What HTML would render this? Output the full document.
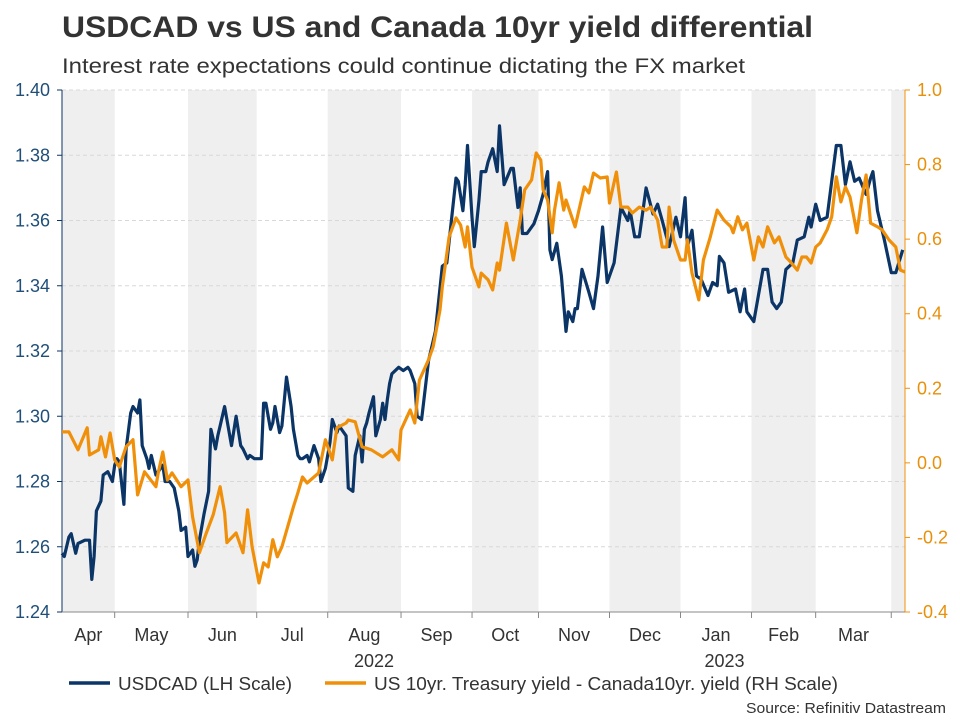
<!DOCTYPE html>
<html><head><meta charset="utf-8"><style>
body{margin:0;background:#fff;width:960px;height:720px;overflow:hidden;font-family:"Liberation Sans",Arial,sans-serif}
svg{display:block}
</style></head><body>
<svg id="chart" width="960" height="720" viewBox="0 0 960 720" xmlns="http://www.w3.org/2000/svg" font-family="Liberation Sans, Arial, sans-serif">
<text x="62" y="37" font-size="30" font-weight="bold" fill="#333" textLength="751" lengthAdjust="spacingAndGlyphs">USDCAD vs US and Canada 10yr yield differential</text>
<text x="62" y="73" font-size="21.5" fill="#333" textLength="683" lengthAdjust="spacingAndGlyphs">Interest rate expectations could continue dictating the FX market</text>
<g id="bands"></g><g id="grid"></g><g id="axes"></g><g id="lines"></g>
<g>
<line x1="69" y1="683" x2="110" y2="683" stroke="#0b3566" stroke-width="3.5"/>
<text x="118" y="690" font-size="18.5" fill="#333" textLength="174" lengthAdjust="spacingAndGlyphs">USDCAD (LH Scale)</text>
<line x1="325" y1="683" x2="366" y2="683" stroke="#f0900a" stroke-width="3.5"/>
<text x="374" y="690" font-size="18.5" fill="#333" textLength="464" lengthAdjust="spacingAndGlyphs">US 10yr. Treasury yield - Canada10yr. yield (RH Scale)</text>
</g>
<text x="946" y="713" font-size="15" fill="#333" text-anchor="end" textLength="200" lengthAdjust="spacingAndGlyphs">Source: Refinitiv Datastream</text>
</svg>
<script>
const usdDays=[0,1,3,4,6,7,10,12,13,14,15,17,18,20,22,23,24,25,27,28,30,31,33,34,35,37,38,39,41,43,44,45,47,49,51,52,54,55,57,58,59,60,62,64,65,67,68,69,71,72,74,76,78,79,81,82,84,86,87,88,89,91,92,93,95,96,98,100,101,103,104,105,107,108,110,112,113,115,117,118,120,121,124,125,127,128,130,131,132,133,134,136,137,139,140,141,142,143,144,147,149,151,152,154,155,157,158,160,162,163,166,168,172,173,175,176,177,179,180,182,183,185,186,188,190,191,193,196,197,199,200,201,203,206,208,210,212,213,214,216,218,220,221,223,224,225,227,230,232,234,236,238,241,244,247,248,250,252,255,258,260,262,265,268,270,272,273,275,277,279,282,284,286,287,289,291,294,296,298,299,302,304,306,308,310,312,314,316,319,321,324,326,327,329,331,334,336,338,340,342,344,346,348,351,353,354,356,359,362,364,367];
const usdValues=[1.258,1.257,1.263,1.264,1.258,1.261,1.262,1.262,1.250,1.257,1.271,1.274,1.282,1.283,1.280,1.285,1.287,1.286,1.273,1.290,1.301,1.303,1.301,1.305,1.291,1.287,1.284,1.288,1.282,1.284,1.285,1.280,1.280,1.278,1.271,1.265,1.266,1.257,1.259,1.254,1.256,1.262,1.270,1.277,1.296,1.290,1.294,1.297,1.303,1.299,1.291,1.300,1.291,1.290,1.287,1.288,1.287,1.287,1.287,1.304,1.304,1.296,1.298,1.303,1.295,1.297,1.312,1.303,1.296,1.288,1.287,1.287,1.288,1.286,1.291,1.287,1.280,1.284,1.292,1.299,1.295,1.297,1.294,1.278,1.277,1.288,1.294,1.286,1.296,1.298,1.301,1.306,1.294,1.299,1.304,1.299,1.305,1.310,1.313,1.315,1.314,1.315,1.314,1.310,1.300,1.299,1.305,1.317,1.323,1.326,1.346,1.347,1.373,1.372,1.363,1.371,1.383,1.361,1.352,1.366,1.375,1.375,1.378,1.382,1.375,1.389,1.371,1.376,1.376,1.364,1.370,1.356,1.356,1.359,1.363,1.368,1.375,1.351,1.348,1.353,1.343,1.326,1.332,1.329,1.333,1.333,1.345,1.338,1.333,1.343,1.358,1.341,1.347,1.364,1.360,1.363,1.355,1.355,1.370,1.362,1.365,1.360,1.352,1.361,1.355,1.367,1.352,1.357,1.343,1.342,1.337,1.341,1.340,1.349,1.347,1.338,1.339,1.332,1.339,1.332,1.329,1.337,1.345,1.345,1.335,1.333,1.335,1.345,1.347,1.354,1.355,1.361,1.358,1.365,1.360,1.361,1.372,1.383,1.383,1.371,1.378,1.372,1.373,1.368,1.373,1.375,1.363,1.354,1.344,1.344,1.351];
const yldDays=[0,3,7,11,12,16,17,19,21,23,25,28,31,33,36,41,42,44,46,48,52,55,57,60,63,66,69,71,72,76,79,81,83,86,88,90,92,94,96,101,103,105,107,112,115,118,120,124,125,128,131,135,140,144,147,148,152,154,156,160,162,165,166,169,172,174,176,177,179,182,183,186,188,190,191,194,197,200,202,205,207,209,210,212,214,215,217,219,220,224,228,230,232,235,238,239,242,244,247,249,252,255,257,260,262,264,265,267,270,272,273,275,278,280,283,286,289,292,293,295,297,299,302,304,306,308,311,313,316,318,321,323,325,327,329,331,334,336,338,340,342,344,347,349,351,353,356,358,361,364,366,368];
const yldValues=[0.083,0.083,0.035,0.094,0.021,0.035,0.070,0.016,0.080,0.008,-0.011,0.043,0.062,-0.086,-0.024,-0.064,-0.027,0.029,-0.046,-0.027,-0.064,-0.046,-0.145,-0.241,-0.188,-0.139,-0.064,-0.134,-0.214,-0.188,-0.241,-0.126,-0.225,-0.322,-0.268,-0.279,-0.206,-0.252,-0.225,-0.118,-0.080,-0.038,-0.054,-0.027,0.062,0.008,0.094,0.107,0.115,0.110,0.043,0.035,0.016,0.035,0.008,0.088,0.142,0.107,0.222,0.276,0.311,0.410,0.472,0.606,0.657,0.638,0.579,0.633,0.525,0.472,0.509,0.491,0.464,0.536,0.517,0.643,0.544,0.651,0.732,0.759,0.831,0.812,0.732,0.705,0.617,0.678,0.751,0.678,0.705,0.633,0.740,0.724,0.777,0.764,0.767,0.697,0.780,0.686,0.686,0.670,0.686,0.678,0.686,0.651,0.579,0.579,0.686,0.598,0.544,0.544,0.598,0.509,0.437,0.544,0.606,0.678,0.651,0.633,0.617,0.660,0.625,0.643,0.544,0.606,0.579,0.633,0.590,0.606,0.552,0.539,0.517,0.552,0.552,0.536,0.579,0.590,0.625,0.660,0.767,0.700,0.740,0.713,0.617,0.705,0.772,0.643,0.633,0.625,0.598,0.579,0.517,0.512];
const monthLabels=["Apr","May","Jun","Jul","Aug","Sep","Oct","Nov","Dec","Jan","Feb","Mar",""];
const monthStarts=[0,23,55,85,116,148,179,208,239,270,301,329,362];
const leftTicks=[1.24,1.26,1.28,1.30,1.32,1.34,1.36,1.38,1.40];
const rightTicks=[-0.4,-0.2,0.0,0.2,0.4,0.6,0.8,1.0];
const yearLabels=[{text:"2022",day:148},{text:"2023",day:301}];

const X0=62,X1=905,Y0=612,Y1=90,DMAX=368;
const NS="http://www.w3.org/2000/svg";
const xs=d=>X0+(d/DMAX)*(X1-X0);
const yl=v=>Y0-(v-1.24)/(1.40-1.24)*(Y0-Y1);
const yr=v=>Y0-(v+0.4)/1.4*(Y0-Y1);
function mk(tag,attrs,parent,text){const e=document.createElementNS(NS,tag);for(const k in attrs)e.setAttribute(k,attrs[k]);if(text!==undefined)e.textContent=text;parent.appendChild(e);return e;}
const bands=document.getElementById('bands'),grid=document.getElementById('grid'),axes=document.getElementById('axes'),lines=document.getElementById('lines');
for(let i=0;i<monthStarts.length;i++){
  const a=xs(monthStarts[i]),b=i+1<monthStarts.length?xs(monthStarts[i+1]):X1;
  if(i%2===0){const r=mk('rect',{x:a,y:Y1,width:Math.min(b,X1)-a,height:Y0-Y1,fill:'#efefef'},bands);
    
    }
  if(monthLabels[i]){const t=mk('text',{x:(a+Math.min(b,X1))/2,y:641,'font-size':18,fill:'#333','text-anchor':'middle'},axes,monthLabels[i]);
    
    }
  if(i>0){const tk=mk('line',{x1:a,y1:Y0,x2:a,y2:618,stroke:'#888','stroke-width':1},axes);
    
    }
}
yearLabels.forEach(yv=>{const t=mk('text',{x:xs(yv.day)-27,y:667,'font-size':18,fill:'#333','text-anchor':'middle'},axes,yv.text);
  
  });
leftTicks.forEach(v=>{const y=yl(v);
  if(v>1.24){const g=mk('line',{x1:X0,y1:y,x2:X1,y2:y,stroke:'#d8d8d8','stroke-dasharray':'4,3','stroke-width':1},grid);
    
    }
  const tk=mk('line',{x1:X0-5,y1:y,x2:X0,y2:y,stroke:'#0b3566'},axes);
  
  
  const t=mk('text',{x:X0-12,y:y+6,'font-size':18,fill:'#1f4e79','text-anchor':'end'},axes,v.toFixed(2));
  
  });
rightTicks.forEach(v=>{const y=yr(v);
  const tk=mk('line',{x1:X1,y1:y,x2:X1+5,y2:y,stroke:'#f0900a'},axes);
  
  
  const t=mk('text',{x:X1+12,y:y+6,'font-size':18,fill:'#e8900a'},axes,v.toFixed(1));
  
  });
const la=mk('line',{x1:X0,y1:Y1,x2:X0,y2:Y0,stroke:'#0b3566','stroke-width':1},axes);


const ra=mk('line',{x1:X1,y1:Y1,x2:X1,y2:Y0,stroke:'#f0900a','stroke-width':1},axes);


const xa=mk('line',{x1:X0,y1:Y0,x2:X1,y2:Y0,stroke:'#888','stroke-width':1},axes);


const pu=usdDays.map((d,i)=>xs(d).toFixed(1)+','+yl(usdValues[i]).toFixed(1)).join(' ');
const py=yldDays.map((d,i)=>xs(d).toFixed(1)+','+yr(yldValues[i]).toFixed(1)).join(' ');
const l1=mk('polyline',{points:pu,fill:'none',stroke:'#0b3566','stroke-width':3.2,'stroke-linejoin':'round'},lines);


const l2=mk('polyline',{points:py,fill:'none',stroke:'#f0900a','stroke-width':3.2,'stroke-linejoin':'round'},lines);


</script>
</body></html>
